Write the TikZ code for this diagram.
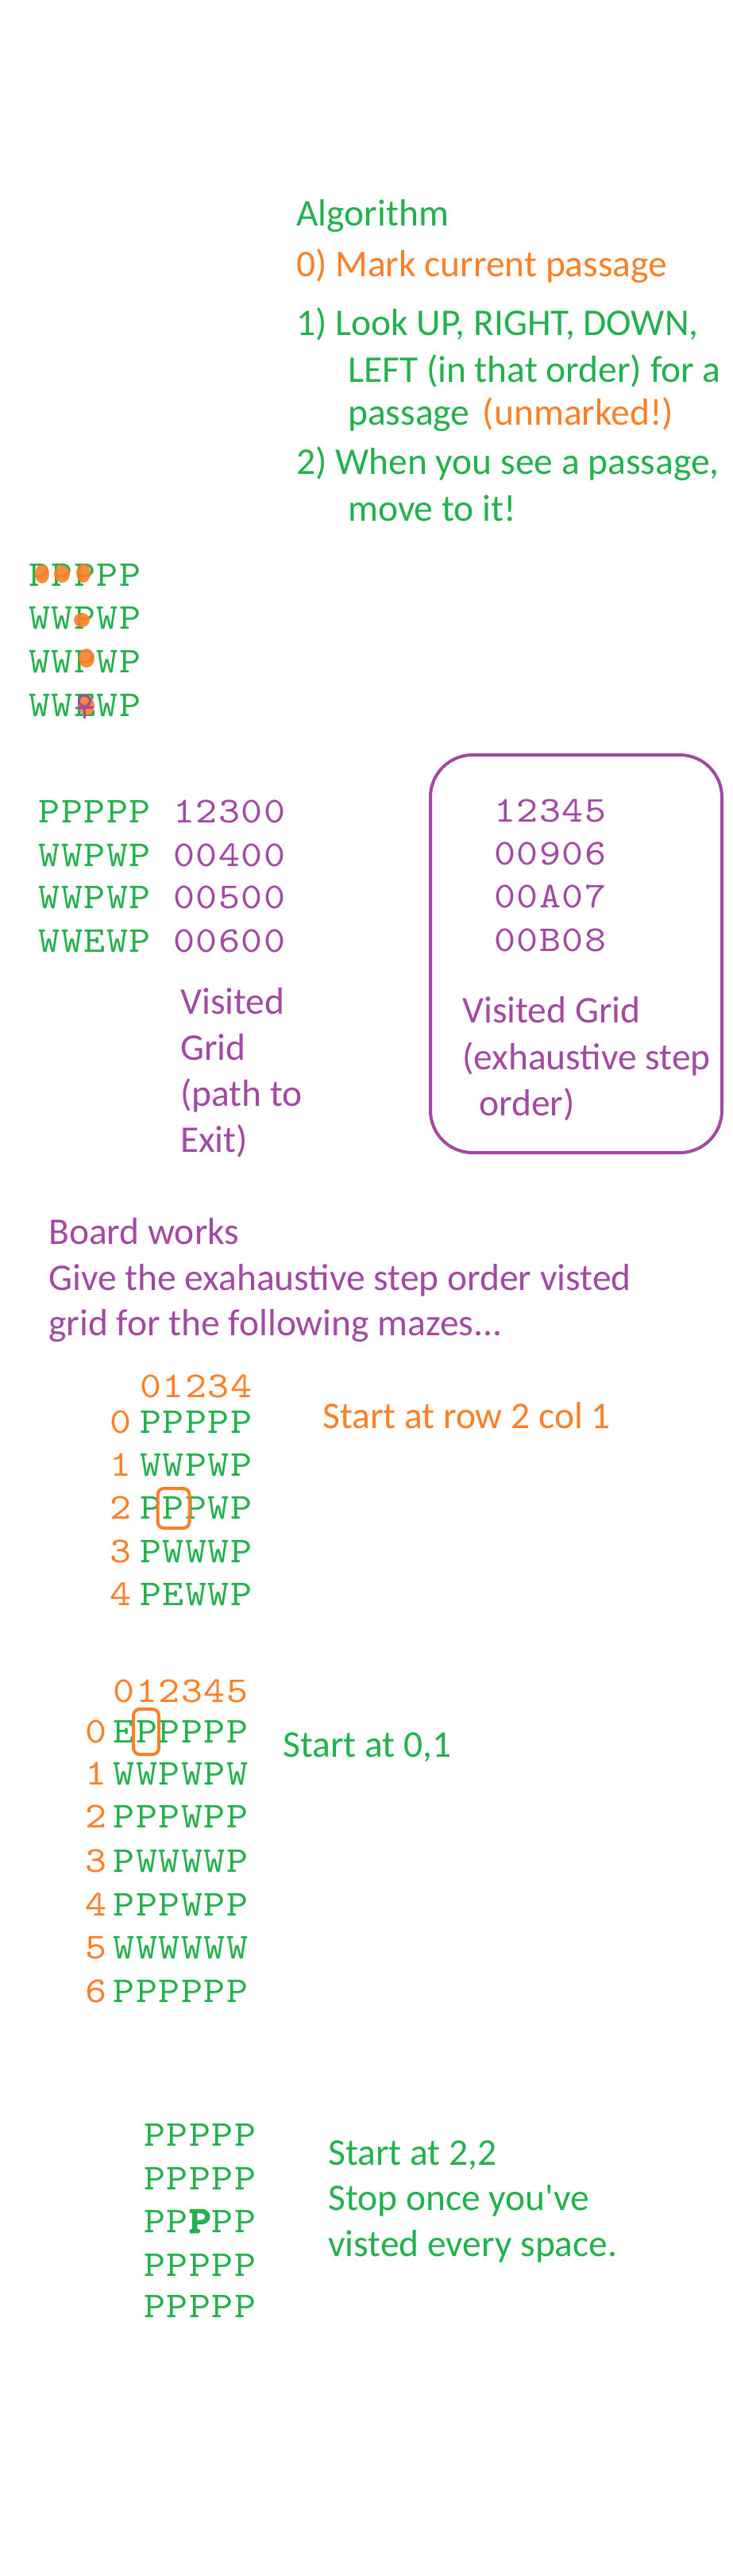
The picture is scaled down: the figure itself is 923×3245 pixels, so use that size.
\documentclass[tikz,border=0pt]{standalone}
\usepackage{fontspec}
\setmainfont{Carlito}[Ligatures=TeXOff]
\newfontfamily\gridfont{lmmono10-regular.otf}[FakeStretch=1.12]
\newfontfamily\gridbold{lmmono10-regular.otf}[FakeStretch=1.12,FakeBold=6]
\usetikzlibrary{positioning}
\definecolor{mgreen}{HTML}{22B14C}
\definecolor{morange}{HTML}{FF7F27}
\definecolor{mpurple}{HTML}{A349A4}
\tikzset{
  txt/.style={anchor=base west,inner sep=0pt,font=\fontsize{47.5}{58}\selectfont},
  cell/.style={anchor=base,inner sep=0pt,text=mgreen,font=\gridfont\fontsize{46}{46}\selectfont},
  blob/.style={fill=morange,draw=none,opacity=0.9},
  scrib/.style={draw=mpurple,line width=3pt,line cap=round},
  startbox/.style={draw=morange,line width=4pt,rounded corners=8pt},
}
% one row of a maze: [options]{name}{x of first column}{baseline}{cells}
\newcommand{\gridrow}[5][]{%
  \foreach \ch [count=\k from 0] in {#5}
    \node[cell,#1] (#2-\k) at ({#3+\k*28.5},#4) {\ch};}

\begin{document}
\begin{tikzpicture}[x=1pt,y=-1pt]
\useasboundingbox (0,0) rectangle (923,3245);
% algorithm
\node[txt,text=mgreen] (alg) at (373,284) {Algorithm};
\node[txt,text=morange] (step0) at (373,348) {0) Mark current passage};
\node[txt,text=mgreen] (step1) at (373,422) {1) Look UP, RIGHT, DOWN,};
\node[txt,text=mgreen] (step1b) at (438,481) {LEFT (in that order) for a};
\node[txt,text=mgreen] (step1c) at (438,535) {passage};
\node[txt,text=morange,right=16pt of step1c.base east,anchor=base west] (unmk) {(unmarked!)};
\node[txt,text=mgreen] (step2) at (373,597) {2) When you see a passage,};
\node[txt,text=mgreen] (step2b) at (438,656) {move to it!};
%
% marked sketch
\gridrow{s0}{50}{738}{P,P,P,P,P}
\gridrow{s1}{50}{792}{W,W,P,W,P}
\gridrow{s2}{50}{847}{W,W,P,W,P}
\gridrow{s3}{50}{902}{W,W,E,W,P}
\fill[blob] (53,723) ellipse (9pt and 12pt);
\fill[blob] (78,723) ellipse (10pt and 11pt);
\fill[blob] (105,722) ellipse (9pt and 12pt);
\fill[blob] (103,781) ellipse (10pt and 9pt);
\fill[blob] (109,829) ellipse (10pt and 12pt);
\fill[blob] (109,889) ellipse (10pt and 12pt);
\draw[scrib] (106.5,883) circle (7pt);
\draw[scrib] (96,892) -- (117,891);
\draw[scrib] (106,890) -- (106,904);
%
% path to exit
\gridrow{m0}{62.5}{1036}{P,P,P,P,P}
\gridrow{m1}{62.5}{1091}{W,W,P,W,P}
\gridrow{m2}{62.5}{1144}{W,W,P,W,P}
\gridrow{m3}{62.5}{1199}{W,W,E,W,P}
\gridrow[text=mpurple]{v0}{232}{1036}{1,2,3,0,0}
\gridrow[text=mpurple]{v1}{232}{1091}{0,0,4,0,0}
\gridrow[text=mpurple]{v2}{232}{1144}{0,0,5,0,0}
\gridrow[text=mpurple]{v3}{232}{1199}{0,0,6,0,0}
\node[txt,text=mpurple] (vis1) at (227,1277) {Visited};
\node[txt,text=mpurple] (vis2) at (227,1335) {Grid};
\node[txt,text=mpurple] (vis3) at (227,1393) {(path to};
\node[txt,text=mpurple] (vis4) at (227,1451) {Exit)};
%
% exhaustive order
\draw[draw=mpurple,line width=4pt,rounded corners=53pt] (542,951) rectangle (909,1452);
\gridrow[text=mpurple]{x0}{636}{1035}{1,2,3,4,5}
\gridrow[text=mpurple]{x1}{636}{1089}{0,0,9,0,6}
\gridrow[text=mpurple]{x2}{636}{1143}{0,0,A,0,7}
\gridrow[text=mpurple]{x3}{636}{1198}{0,0,B,0,8}
\node[txt,text=mpurple] (exh1) at (582,1288) {Visited Grid};
\node[txt,text=mpurple] (exh2) at (582,1347) {(exhaustive step};
\node[txt,text=mpurple] (exh3) at (603,1405) {order)};
%
\node[txt,text=mpurple] (bw1) at (61,1567) {Board works};
\node[txt,text=mpurple] (bw2) at (61,1625) {Give the exahaustive step order visted};
\node[txt,text=mpurple] (bw3) at (61,1682) {grid for the following mazes...};
%
% maze 1
\gridrow[text=morange]{h1}{190}{1760}{0,1,2,3,4}
\gridrow{a0}{190}{1805}{P,P,P,P,P}
\gridrow{a1}{190}{1859}{W,W,P,W,P}
\gridrow{a2}{190}{1913}{P,P,P,W,P}
\gridrow{a3}{190}{1968}{P,W,W,W,P}
\gridrow{a4}{190}{2022}{P,E,W,W,P}
\foreach \r/\y in {0/1805,1/1859,2/1913,3/1968,4/2022}
  \node[cell,text=morange] (la\r) at (152,\y) {\r};
\draw[startbox] ([shift={(-20,-38)}]a2-1.base) rectangle ([shift={(20,12)}]a2-1.base);
\node[txt,text=morange] (st1) at (406,1799) {Start at row 2 col 1};
%
% maze 2
\gridrow[text=morange]{h2}{156.5}{2144}{0,1,2,3,4,5}
\gridrow{b0}{156.5}{2195}{E,P,P,P,P,P}
\gridrow{b1}{156.5}{2248}{W,W,P,W,P,W}
\gridrow{b2}{156.5}{2302}{P,P,P,W,P,P}
\gridrow{b3}{156.5}{2358}{P,W,W,W,W,P}
\gridrow{b4}{156.5}{2413}{P,P,P,W,P,P}
\gridrow{b5}{156.5}{2467}{W,W,W,W,W,W}
\gridrow{b6}{156.5}{2522}{P,P,P,P,P,P}
\foreach \r/\y in {0/2195,1/2248,2/2302,3/2358,4/2413,5/2467,6/2522}
  \node[cell,text=morange] (lb\r) at (121,\y) {\r};
\draw[startbox] ([shift={(-17,-42)}]b0-1.base) rectangle ([shift={(15,15)}]b0-1.base);
\node[txt,text=mgreen] (st2) at (356,2213) {Start at 0,1};
%
% maze 3
\gridrow{c0}{195}{2703}{P,P,P,P,P}
\gridrow{c1}{195}{2758}{P,P,P,P,P}
\gridrow{c2}{195}{2812}{P,P,{\gridbold P},P,P}
\gridrow{c3}{195}{2867}{P,P,P,P,P}
\gridrow{c4}{195}{2919}{P,P,P,P,P}
\node[txt,text=mgreen] (st3) at (413,2727) {Start at 2,2};
\node[txt,text=mgreen] (st3b) at (413,2784) {Stop once you've};
\node[txt,text=mgreen] (st3c) at (413,2842) {visted every space.};
\end{tikzpicture}
\end{document}
